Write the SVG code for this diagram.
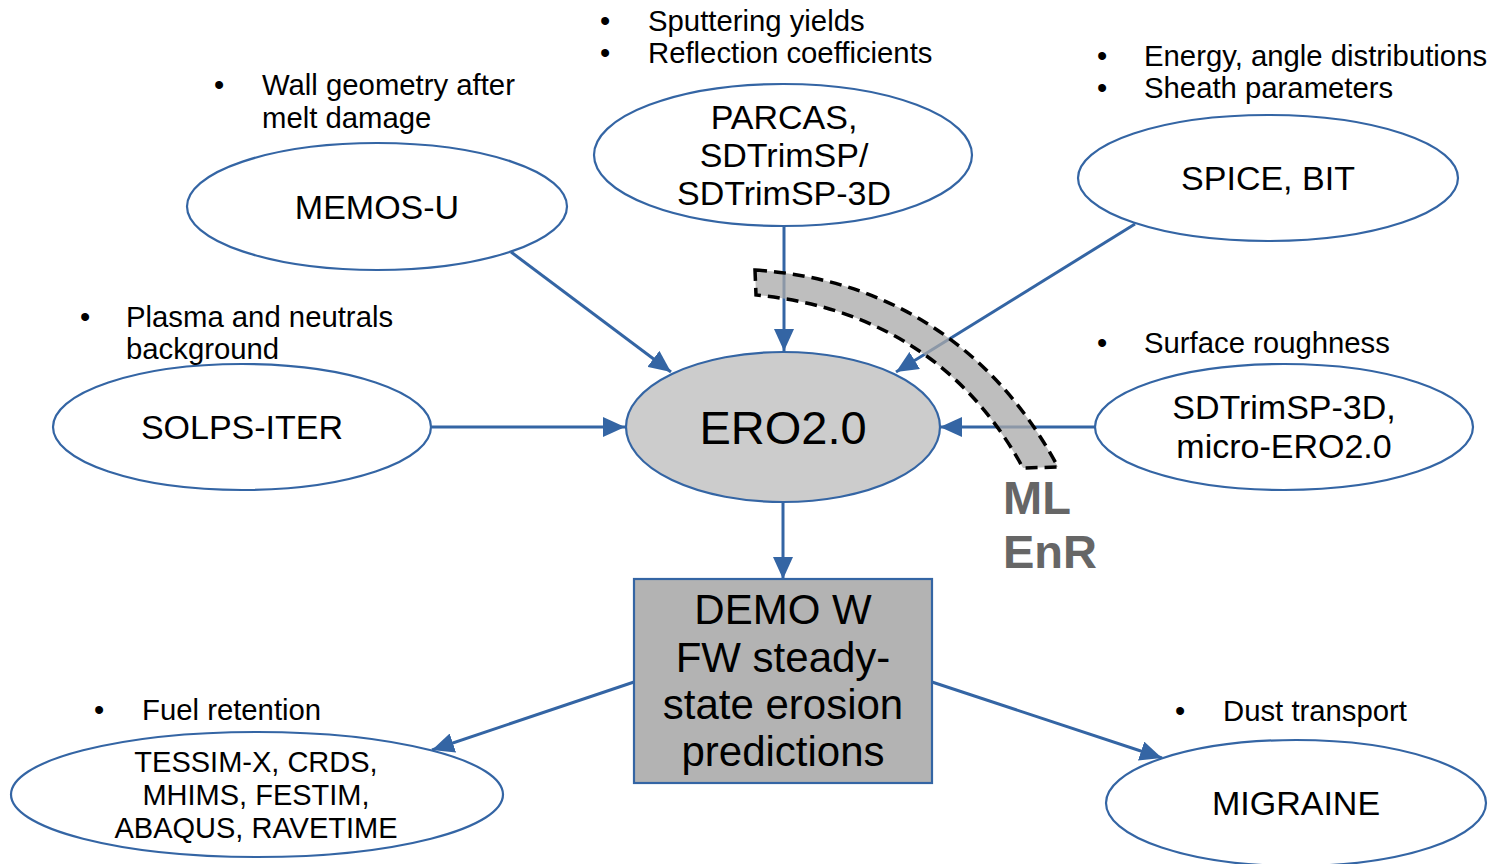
<svg xmlns="http://www.w3.org/2000/svg" width="1491" height="864" viewBox="0 0 1491 864">
<style>
text{font-family:"Liberation Sans",Arial,sans-serif;fill:#000}
.node{fill:#fff;stroke:#3465a4;stroke-width:2.2}
.lbl{font-size:34px;text-anchor:middle}
.bul{font-size:29.3px}
.conn line{stroke:#3465a4;stroke-width:3;marker-end:url(#ah)}
.ml{font-size:47px;font-weight:bold;fill:#666}
</style>
<defs>
<marker id="ah" markerUnits="userSpaceOnUse" markerWidth="22" markerHeight="20" refX="22" refY="10" orient="auto" viewBox="0 0 22 20">
<path d="M0,0 L22,10 L0,20 z" fill="#3465a4"/>
</marker>
</defs>
<rect width="1491" height="864" fill="#fff"/>

<g id="connectors" class="conn">
<line x1="511" y1="252" x2="671" y2="372"/>
<line x1="784" y1="226" x2="784" y2="351"/>
<line x1="1135" y1="224" x2="896" y2="372"/>
<line x1="432" y1="427" x2="625" y2="427"/>
<line x1="1095" y1="427" x2="940" y2="427"/>
<line x1="783" y1="502" x2="783" y2="579"/>
<line x1="634" y1="682" x2="432" y2="750"/>
<line x1="932" y1="682" x2="1162" y2="758"/>
</g>

<g id="memos">
<ellipse class="node" cx="377" cy="206.5" rx="190" ry="63.5"/>
<text class="lbl" x="377" y="219">MEMOS-U</text>
<text class="bul" x="214" y="95">•</text>
<text class="bul" x="262" y="95">Wall geometry after</text>
<text class="bul" x="262" y="128">melt damage</text>
</g>

<g id="parcas">
<ellipse class="node" cx="783" cy="155" rx="189" ry="71"/>
<text class="lbl" x="784" y="129">PARCAS,</text>
<text class="lbl" x="784" y="167">SDTrimSP/</text>
<text class="lbl" x="784" y="205">SDTrimSP-3D</text>
<text class="bul" x="600" y="31">•</text>
<text class="bul" x="648" y="31">Sputtering yields</text>
<text class="bul" x="600" y="63">•</text>
<text class="bul" x="648" y="63">Reflection coefficients</text>
</g>

<g id="spice">
<ellipse class="node" cx="1268" cy="178" rx="190" ry="63"/>
<text class="lbl" x="1268" y="190">SPICE, BIT</text>
<text class="bul" x="1097" y="66">•</text>
<text class="bul" x="1144" y="66">Energy, angle distributions</text>
<text class="bul" x="1097" y="98">•</text>
<text class="bul" x="1144" y="98">Sheath parameters</text>
</g>

<g id="solps">
<ellipse class="node" cx="242" cy="427" rx="189" ry="63"/>
<text class="lbl" x="242" y="439">SOLPS-ITER</text>
<text class="bul" x="80" y="327">•</text>
<text class="bul" x="126" y="327">Plasma and neutrals</text>
<text class="bul" x="126" y="359">background</text>
</g>

<g id="ero">
<ellipse cx="783" cy="427" rx="157" ry="75" fill="#cccccc" stroke="#3465a4" stroke-width="2.2"/>
<text x="783" y="444" font-size="47" text-anchor="middle">ERO2.0</text>
</g>

<g id="sdtrim3d">
<ellipse class="node" cx="1284" cy="427" rx="189" ry="63"/>
<text class="lbl" x="1284" y="419">SDTrimSP-3D,</text>
<text class="lbl" x="1284" y="458">micro-ERO2.0</text>
<text class="bul" x="1097" y="353">•</text>
<text class="bul" x="1144" y="353">Surface roughness</text>
</g>

<g id="demo">
<rect x="634" y="579" width="298" height="204" fill="#b3b3b3" stroke="#3465a4" stroke-width="2.2"/>
<text x="783" y="624" font-size="42" text-anchor="middle">DEMO W</text>
<text x="783" y="672" font-size="42" text-anchor="middle">FW steady-</text>
<text x="783" y="719" font-size="42" text-anchor="middle">state erosion</text>
<text x="783" y="766" font-size="42" text-anchor="middle">predictions</text>
</g>

<g id="tessim">
<ellipse class="node" cx="257" cy="794.5" rx="246" ry="62.5"/>
<text x="256" y="772" font-size="29" text-anchor="middle">TESSIM-X, CRDS,</text>
<text x="256" y="805" font-size="29" text-anchor="middle">MHIMS, FESTIM,</text>
<text x="256" y="838" font-size="29" text-anchor="middle">ABAQUS, RAVETIME</text>
<text class="bul" x="94" y="720">•</text>
<text class="bul" x="142" y="720">Fuel retention</text>
</g>

<g id="migraine">
<ellipse class="node" cx="1296" cy="803" rx="190" ry="63"/>
<text class="lbl" x="1296" y="815">MIGRAINE</text>
<text class="bul" x="1175" y="721">•</text>
<text class="bul" x="1223" y="721">Dust transport</text>
</g>

<g id="ml-enr">
<path d="M755,270 C880,278 990,340 1058,467 L1023,468 C960,352 860,305 756,295 Z" fill="#a8a8a8" fill-opacity="0.75" stroke="#000" stroke-width="3.5" stroke-dasharray="12,7"/>
<text class="ml" x="1003" y="514">ML</text>
<text class="ml" x="1003" y="568">EnR</text>
</g>
</svg>
